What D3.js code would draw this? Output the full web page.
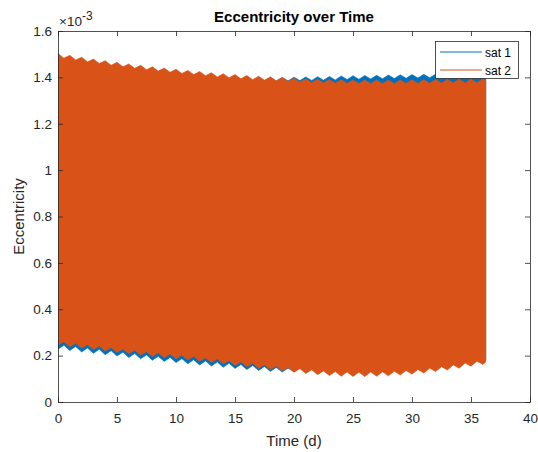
<!DOCTYPE html>
<html>
<head>
<meta charset="utf-8">
<script src="https://cdn.jsdelivr.net/npm/d3@7"></script>
<style>
  html, body { margin: 0; padding: 0; background: #fff; }
  svg { display: block; font-family: "Liberation Sans", Arial, Helvetica, sans-serif; }
</style>
</head>
<body>
<div id="chart"></div>
<script>
// ---- data (values in units of 1e-3) ----
const seriesNames = ["sat 1", "sat 2"];
const xTicks = [0, 5, 10, 15, 20, 25, 30, 35, 40];
const yTicks = [0, 0.2, 0.4, 0.6, 0.8, 1, 1.2, 1.4, 1.6];
const yTickLabels = ["0", "0.2", "0.4", "0.6", "0.8", "1", "1.2", "1.4", "1.6"];

const timeDays = [0,0.5,1,1.5,2,2.5,3,3.5,4,4.5,5,5.5,6,6.5,7,7.5,8,8.5,9,9.5,
  10,10.5,11,11.5,12,12.5,13,13.5,14,14.5,15,15.5,16,16.5,17,17.5,18,18.5,19,19.5,
  20,20.5,21,21.5,22,22.5,23,23.5,24,24.5,25,25.5,26,26.5,27,27.5,28,28.5,29,29.5,
  30,30.5,31,31.5,32,32.5,33,33.5,34,34.5,35,35.5,36,36.25];

// sat 1 (blue) upper / lower envelope of the fast oscillation
const sat1Upper = [1.484,1.465,1.478,1.458,1.471,1.452,1.464,1.445,1.457,1.438,
  1.451,1.432,1.445,1.426,1.439,1.420,1.434,1.415,1.429,1.410,
  1.424,1.406,1.419,1.401,1.415,1.397,1.411,1.394,1.408,1.391,
  1.405,1.388,1.402,1.386,1.401,1.385,1.400,1.384,1.400,1.385,
  1.401,1.386,1.402,1.387,1.403,1.388,1.404,1.389,1.406,1.391,
  1.407,1.392,1.408,1.393,1.409,1.394,1.410,1.395,1.411,1.396,
  1.412,1.397,1.413,1.398,1.414,1.398,1.414,1.398,1.413,1.397,
  1.412,1.396,1.411,1.403];
const sat1Lower = [0.228,0.245,0.222,0.239,0.216,0.233,0.210,0.227,0.204,0.221,
  0.198,0.215,0.192,0.209,0.186,0.203,0.180,0.197,0.175,0.192,
  0.170,0.187,0.165,0.182,0.160,0.177,0.155,0.172,0.150,0.167,
  0.145,0.162,0.140,0.157,0.136,0.153,0.132,0.149,0.129,0.146,
  0.130,0.147,0.130,0.147,0.128,0.145,0.125,0.143,0.123,0.141,
  0.122,0.140,0.122,0.141,0.123,0.142,0.125,0.145,0.128,0.148,
  0.132,0.152,0.137,0.158,0.143,0.164,0.150,0.172,0.158,0.180,
  0.166,0.188,0.174,0.182];

// sat 2 (orange) upper / lower envelope
const sat2Upper = [1.503,1.483,1.495,1.475,1.487,1.467,1.479,1.460,1.472,1.452,
  1.465,1.446,1.458,1.439,1.452,1.433,1.446,1.427,1.440,1.422,
  1.435,1.417,1.430,1.412,1.425,1.407,1.420,1.402,1.416,1.398,
  1.412,1.394,1.408,1.390,1.405,1.388,1.402,1.385,1.399,1.382,
  1.396,1.379,1.394,1.377,1.392,1.376,1.391,1.375,1.390,1.374,
  1.389,1.373,1.389,1.373,1.389,1.373,1.389,1.373,1.389,1.374,
  1.390,1.374,1.390,1.375,1.391,1.375,1.391,1.376,1.392,1.376,
  1.392,1.377,1.393,1.385];
const sat2Lower = [0.245,0.260,0.238,0.253,0.232,0.247,0.226,0.241,0.220,0.235,
  0.214,0.229,0.208,0.223,0.202,0.217,0.196,0.212,0.191,0.207,
  0.186,0.202,0.181,0.197,0.176,0.191,0.170,0.185,0.164,0.179,
  0.158,0.173,0.152,0.167,0.146,0.161,0.140,0.155,0.134,0.149,
  0.128,0.144,0.123,0.139,0.118,0.134,0.114,0.131,0.111,0.129,
  0.110,0.128,0.110,0.129,0.111,0.130,0.113,0.133,0.116,0.136,
  0.120,0.140,0.125,0.146,0.131,0.152,0.138,0.160,0.146,0.168,
  0.154,0.176,0.162,0.172];

const colors = ["#0072BD", "#D95319"];

// ---- layout ----
const W = 538, H = 452;
const plot = { left: 58, right: 530, top: 31, bottom: 402 };
const axisColor = "#262626";

const svg = d3.select("#chart").append("svg").attr("width", W).attr("height", H);

const x = d3.scaleLinear().domain([0, 40]).range([plot.left, plot.right]);
const y = d3.scaleLinear().domain([0, 1.6]).range([plot.bottom, plot.top]);

svg.append("defs").append("clipPath").attr("id", "clip")
  .append("rect").attr("x", plot.left).attr("y", plot.top)
  .attr("width", plot.right - plot.left).attr("height", plot.bottom - plot.top);

// data areas
const series = [
  { up: sat1Upper, lo: sat1Lower },
  { up: sat2Upper, lo: sat2Lower }
];
const g = svg.append("g").attr("clip-path", "url(#clip)");
series.forEach((s, k) => {
  const pts = timeDays.map((t, i) => ({ t, u: s.up[i], l: s.lo[i] }));
  const area = d3.area().x(d => x(d.t)).y0(d => y(d.l)).y1(d => y(d.u));
  g.append("path").datum(pts).attr("d", area)
    .attr("fill", colors[k]).attr("stroke", colors[k]).attr("stroke-width", 0.6);
});

// axes (MATLAB style: box, inward ticks)
const tickLen = 5;
const fontTick = 13.5;

const xAxisB = d3.axisBottom(x).tickValues(xTicks).tickSizeInner(-tickLen).tickSizeOuter(0).tickPadding(11).tickFormat(d3.format("d"));
const xAxisT = d3.axisTop(x).tickValues(xTicks).tickSizeInner(-tickLen).tickSizeOuter(0).tickFormat("");
const yAxisL = d3.axisLeft(y).tickValues(yTicks).tickSizeInner(-tickLen).tickSizeOuter(0).tickPadding(6).tickFormat((d, i) => yTickLabels[i]);
const yAxisR = d3.axisRight(y).tickValues(yTicks).tickSizeInner(-tickLen).tickSizeOuter(0).tickFormat("");

function styleAxis(sel) {
  sel.select(".domain").attr("stroke", axisColor).attr("stroke-width", 0.8);
  sel.selectAll(".tick line").attr("stroke", axisColor).attr("stroke-width", 0.8);
  sel.selectAll(".tick text").attr("fill", axisColor).attr("font-size", fontTick)
    .attr("font-family", "\"Liberation Sans\", Arial, sans-serif");
}
svg.append("g").attr("transform", `translate(0,${plot.bottom})`).call(xAxisB).call(styleAxis);
svg.append("g").attr("transform", `translate(0,${plot.top})`).call(xAxisT).call(styleAxis);
svg.append("g").attr("transform", `translate(${plot.left},0)`).call(yAxisL).call(styleAxis);
svg.append("g").attr("transform", `translate(${plot.right},0)`).call(yAxisR).call(styleAxis);

// exponent label
const ex = svg.append("text").attr("x", plot.left + 1).attr("y", 26)
  .attr("font-size", 13.5).attr("fill", axisColor);
ex.append("tspan").text("\u00D710");
ex.append("tspan").attr("dy", -6).attr("font-size", 12).text("-3");

// title
svg.append("text").attr("x", (plot.left + plot.right) / 2).attr("y", 22)
  .attr("text-anchor", "middle").attr("font-weight", "bold").attr("font-size", 15)
  .attr("fill", "#000").text("Eccentricity over Time");

// axis labels
svg.append("text").attr("x", (plot.left + plot.right) / 2).attr("y", 446)
  .attr("text-anchor", "middle").attr("font-size", 15).attr("fill", axisColor).text("Time (d)");
svg.append("text").attr("transform", `translate(24,${(plot.top + plot.bottom) / 2}) rotate(-90)`)
  .attr("text-anchor", "middle").attr("font-size", 15).attr("fill", axisColor).text("Eccentricity");

// legend
const lg = svg.append("g");
lg.append("rect").attr("x", 435.5).attr("y", 41.5).attr("width", 83).attr("height", 37)
  .attr("fill", "#fff").attr("stroke", axisColor).attr("stroke-width", 0.8);
seriesNames.forEach((name, i) => {
  const yy = 52 + i * 18;
  lg.append("line").attr("x1", 440).attr("x2", 482).attr("y1", yy).attr("y2", yy)
    .attr("stroke", colors[i]).attr("stroke-width", 1);
  lg.append("text").attr("x", 485).attr("y", yy + 4.5).attr("font-size", 12)
    .attr("fill", "#000").text(name);
});
</script>
</body>
</html>
